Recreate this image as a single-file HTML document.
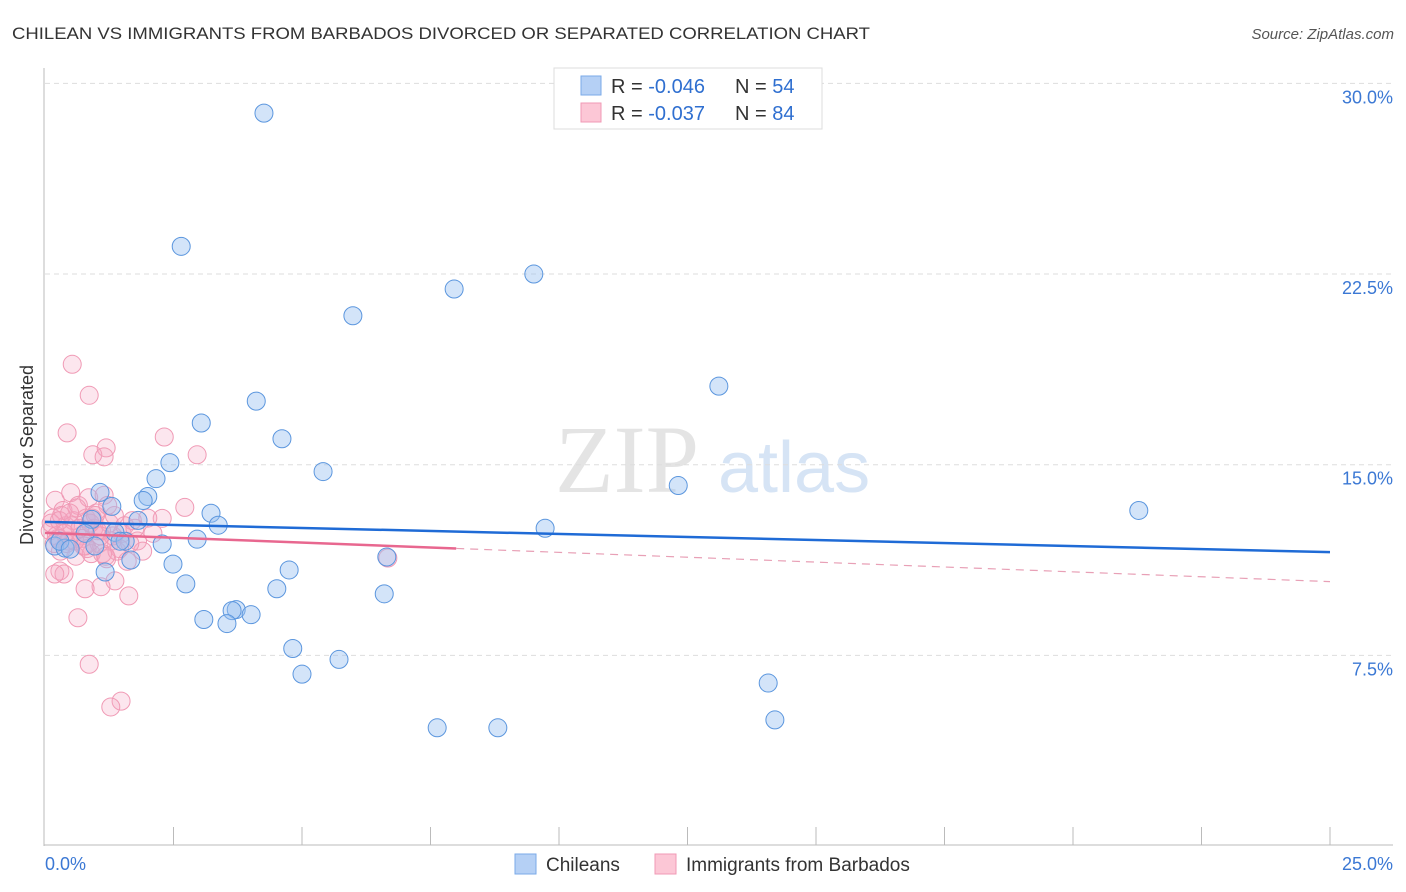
<!DOCTYPE html>
<html><head><meta charset="utf-8"><style>
body{margin:0;background:#fff;font-family:"Liberation Sans",sans-serif}
</style></head><body>
<svg id="c" width="1406" height="892" style="display:block">
<text x="12" y="39" font-size="17" fill="#333" textLength="858" lengthAdjust="spacingAndGlyphs">CHILEAN VS IMMIGRANTS FROM BARBADOS DIVORCED OR SEPARATED CORRELATION CHART</text>
<text x="1394" y="39" font-size="15" fill="#555" text-anchor="end" font-style="italic">Source: ZipAtlas.com</text>
<text x="0" y="0" font-size="18" fill="#333" text-anchor="middle" transform="translate(33,455) rotate(-90)">Divorced or Separated</text>
<text x="555" y="492" font-size="96" fill="#e4e4e4" font-family="Liberation Serif,serif">ZIP</text>
<text x="718" y="492" font-size="72" fill="#d6e4f5">atlas</text>
<g id="grid"></g><g id="pts"></g><g id="lines"></g>
<g>
<rect x="554" y="68" width="268" height="61" fill="#fff" stroke="#ddd"/>
<rect x="581" y="76" width="20" height="19" fill="#b5d0f5" stroke="#7aaae8"/>
<rect x="581" y="103" width="20" height="19" fill="#fcc7d6" stroke="#f09ab5"/>
<text x="611" y="93" font-size="20" fill="#333">R = <tspan fill="#2f6fd0">-0.046</tspan><tspan x="735">N = </tspan><tspan fill="#2f6fd0">54</tspan></text>
<text x="611" y="120" font-size="20" fill="#333">R = <tspan fill="#2f6fd0"> -0.037</tspan><tspan x="735">N = </tspan><tspan fill="#2f6fd0">84</tspan></text>
</g>
<g>
<rect x="515" y="854" width="21" height="20" fill="#b5d0f5" stroke="#7aaae8"/>
<text x="546" y="871" font-size="19" fill="#333">Chileans</text>
<rect x="655" y="854" width="21" height="20" fill="#fcc7d6" stroke="#f09ab5"/>
<text x="686" y="871" font-size="19" fill="#333">Immigrants from Barbados</text>
</g>
</svg>
<script>
const yTicks=[7.5,15,22.5,30];
const yTickLabels=["7.5%","15.0%","22.5%","30.0%"];
const xTickCount=10;
const xLabels=["0.0%","25.0%"];
const blueX=[4.26,2.65,9.51,7.96,5.99,13.11,4.11,3.04,4.61,2.43,5.41,2.16,2.0,1.07,1.91,12.32,21.28,3.23,0.91,1.81,3.37,9.73,1.36,2.96,1.56,2.28,0.19,0.39,6.65,1.67,2.49,4.75,1.17,2.74,4.51,6.6,3.72,3.64,4.01,3.09,3.54,4.82,5.72,5.0,14.07,14.2,7.63,8.81,0.29,0.49,1.3,0.78,1.46,0.97];
const blueY=[28.83,23.59,22.5,21.91,20.86,18.09,17.5,16.64,16.02,15.08,14.73,14.45,13.75,13.91,13.59,14.18,13.2,13.09,12.85,12.81,12.62,12.5,12.34,12.07,11.99,11.88,11.8,11.72,11.37,11.25,11.09,10.86,10.78,10.31,10.12,9.92,9.3,9.26,9.1,8.91,8.75,7.77,7.34,6.76,6.41,4.96,4.65,4.65,11.99,11.68,13.36,12.3,11.99,11.8];
const pinkX=[0.53,0.86,0.43,1.19,0.93,1.15,2.32,2.96,2.72,2.28,0.64,0.86,1.48,1.28,6.67,1.63,1.36,1.09,0.78,0.29,0.37,0.19,
0.1,0.15,0.2,0.25,0.3,0.35,0.4,0.45,0.5,0.55,0.6,0.65,0.7,0.75,0.8,0.85,0.9,0.95,1.0,1.05,1.1,1.15,1.2,1.25,1.3,1.35,1.4,1.5,1.6,1.7,1.8,1.9,2.0,2.1,0.12,0.22,0.32,0.42,0.52,0.62,0.72,0.82,0.92,1.02,1.12,1.22,1.32,1.45,1.55,1.65,1.75,0.18,0.28,0.38,0.48,0.58,0.68,0.78,0.88,0.98,1.08,1.18];
const pinkY=[18.95,17.73,16.25,15.66,15.39,15.31,16.09,15.39,13.32,12.89,8.98,7.15,5.7,5.47,11.33,9.84,10.43,10.2,10.12,10.82,10.7,10.7,
12.4,12.9,13.6,12.1,11.6,13.2,12.6,12.0,13.9,12.8,11.4,13.4,12.2,11.8,12.9,13.7,11.5,12.5,13.1,11.9,12.4,13.8,11.3,12.7,12.0,13.0,11.6,12.3,11.2,12.8,12.0,11.6,12.9,12.3,12.7,12.2,13.0,11.9,12.6,13.3,12.1,11.7,12.9,12.4,11.5,13.4,12.2,11.7,12.6,11.9,12.5,11.9,12.8,12.3,13.1,12.0,12.5,11.8,12.7,13.0,12.2,11.4];
const blueTrend=[12.75,11.56];
const pinkTrend=[12.32,10.4];
const pinkSolidEnd=8;
const ns="http://www.w3.org/2000/svg";
const X0=45,X1=1330,Y0=846,PPY=25.42;
const sx=v=>X0+v/25*(X1-X0);
const sy=v=>Y0-v*PPY;
function mk(t,a,p){const e=document.createElementNS(ns,t);for(const k in a)e.setAttribute(k,a[k]);p.appendChild(e);return e;}
const grid=document.getElementById('grid');
yTicks.forEach((t,i)=>{
 const l=mk('line',{x1:45,x2:1393,y1:sy(t),y2:sy(t),stroke:'#ddd','stroke-dasharray':'5,4'},grid);
 
 
 const tx=mk('text',{x:1393,y:sy(t)+20,'font-size':18,fill:'#3b78d4','text-anchor':'end'},grid);
 tx.textContent=yTickLabels[i];
 
 
});
const ax=mk('line',{x1:44,x2:44,y1:68,y2:846,stroke:'#bbb'},grid);


const bx=mk('line',{x1:44,x2:1393,y1:845,y2:845,stroke:'#bbb'},grid);


for(let i=1;i<=xTickCount;i++){const v=i*25/xTickCount;
 const t=mk('line',{x1:sx(v),x2:sx(v),y1:827,y2:845,stroke:'#bbb'},grid);
 
 }
const xl0=mk('text',{x:45,y:870,'font-size':18,fill:'#3b78d4'},grid);xl0.textContent=xLabels[0];


const xl1=mk('text',{x:1393,y:870,'font-size':18,fill:'#3b78d4','text-anchor':'end'},grid);xl1.textContent=xLabels[1];


const pts=document.getElementById('pts');
pinkX.forEach((x,i)=>{const c=mk('circle',{cx:sx(x),cy:sy(pinkY[i]),r:9,fill:'rgba(246,165,195,0.28)',stroke:'#f09ab5','stroke-width':1},pts);
 
 });
blueX.forEach((x,i)=>{const c=mk('circle',{cx:sx(x),cy:sy(blueY[i]),r:9,fill:'rgba(150,190,240,0.42)',stroke:'#5b96de','stroke-width':1},pts);
 
 });
const lines=document.getElementById('lines');
const pAt=v=>pinkTrend[0]+(pinkTrend[1]-pinkTrend[0])*v/25;
const b=mk('line',{x1:sx(0),y1:sy(blueTrend[0]),x2:sx(25),y2:sy(blueTrend[1]),stroke:'#1f6bd6','stroke-width':2.5},lines);


const p1=mk('line',{x1:sx(0),y1:sy(pinkTrend[0]),x2:sx(pinkSolidEnd),y2:sy(pAt(pinkSolidEnd)),stroke:'#e8678f','stroke-width':2.5},lines);


const p2=mk('line',{x1:sx(pinkSolidEnd),y1:sy(pAt(pinkSolidEnd)),x2:sx(25),y2:sy(pinkTrend[1]),stroke:'#e8a0b6','stroke-width':1.2,'stroke-dasharray':'8,6'},lines);


</script>
</body></html>
